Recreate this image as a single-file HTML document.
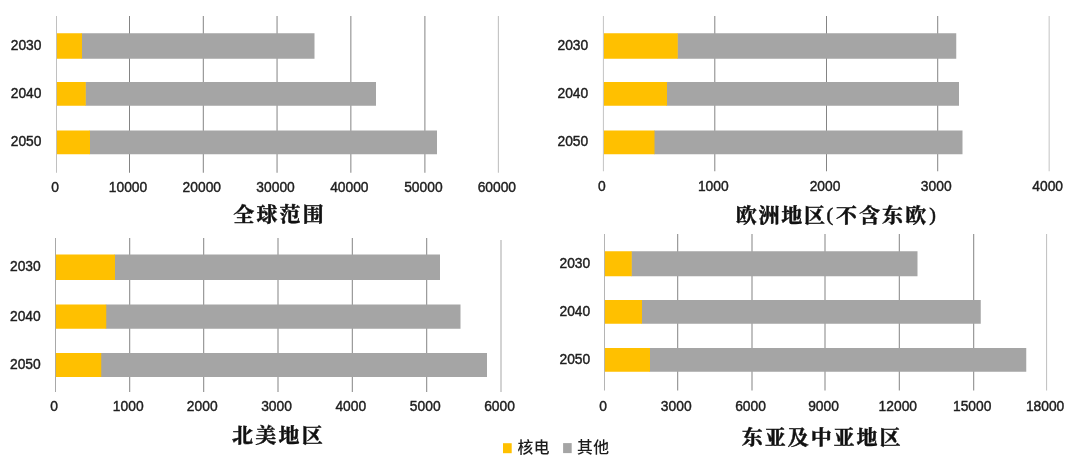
<!DOCTYPE html>
<html lang="zh-CN">
<head>
<meta charset="utf-8">
<title>核电与其他发电量预测</title>
<style>
html,body{margin:0;padding:0;background:#fff;}
body{width:1080px;height:460px;overflow:hidden;}
svg{display:block;}
.num{font-family:"Liberation Sans","Noto Sans CJK SC",sans-serif;font-size:14.4px;fill:#202020;stroke:#202020;stroke-width:0.42px;}
.ttl{font-family:"Liberation Serif","Noto Serif CJK SC",serif;font-weight:700;font-size:20px;fill:#111;stroke:#111;stroke-width:0.45px;}
.par{font-size:19px;font-weight:400;stroke-width:0.5px;}
.leg{font-family:"Liberation Sans","Noto Sans CJK SC",sans-serif;font-size:15.8px;font-weight:500;fill:#1c1c1c;letter-spacing:0.4px;}
</style>
</head>
<body>
<svg width="1080" height="460" viewBox="0 0 1080 460">
<rect x="0" y="0" width="1080" height="460" fill="#ffffff"/>

<g>
<rect x="56.00" y="16.00" width="1" height="156.75" fill="#c0c0c0"/>
<rect x="129.00" y="16.00" width="1" height="156.75" fill="#848484"/>
<rect x="202.80" y="16.00" width="1" height="156.75" fill="#848484"/>
<rect x="276.55" y="16.00" width="1" height="156.75" fill="#848484"/>
<rect x="350.35" y="16.00" width="1" height="156.75" fill="#848484"/>
<rect x="424.40" y="16.00" width="1" height="156.75" fill="#848484"/>
<rect x="497.85" y="16.00" width="1" height="156.75" fill="#bcbcbc"/>
<rect x="81.50" y="33.25" width="233.00" height="25.50" fill="#A5A5A5"/>
<rect x="56.90" y="33.25" width="25.10" height="25.50" fill="#FFC000"/>
<text class="num" transform="translate(41.45,50.00) scale(0.960,1)" text-anchor="end">2030</text>
<rect x="85.25" y="82.00" width="290.75" height="23.75" fill="#A5A5A5"/>
<rect x="56.90" y="82.00" width="28.85" height="23.75" fill="#FFC000"/>
<text class="num" transform="translate(41.45,97.88) scale(0.960,1)" text-anchor="end">2040</text>
<rect x="89.50" y="130.50" width="347.50" height="23.75" fill="#A5A5A5"/>
<rect x="56.90" y="130.50" width="33.10" height="23.75" fill="#FFC000"/>
<text class="num" transform="translate(41.45,146.38) scale(0.960,1)" text-anchor="end">2050</text>
<text class="num" transform="translate(55.00,192.30) scale(0.960,1)" text-anchor="middle">0</text>
<text class="num" transform="translate(128.00,192.30) scale(0.960,1)" text-anchor="middle">10000</text>
<text class="num" transform="translate(201.80,192.30) scale(0.960,1)" text-anchor="middle">20000</text>
<text class="num" transform="translate(275.55,192.30) scale(0.960,1)" text-anchor="middle">30000</text>
<text class="num" transform="translate(349.35,192.30) scale(0.960,1)" text-anchor="middle">40000</text>
<text class="num" transform="translate(423.40,192.30) scale(0.960,1)" text-anchor="middle">50000</text>
<text class="num" transform="translate(496.85,192.30) scale(0.960,1)" text-anchor="middle">60000</text>
<text class="ttl" transform="scale(1.050,1)" x="222.10 244.19 266.29 288.38" y="222.40">全球范围</text>
</g>
<g>
<rect x="602.90" y="16.00" width="1" height="155.25" fill="#c4c4c4"/>
<rect x="714.30" y="16.00" width="1" height="155.25" fill="#848484"/>
<rect x="826.00" y="16.00" width="1" height="155.25" fill="#848484"/>
<rect x="937.20" y="16.00" width="1" height="155.25" fill="#848484"/>
<rect x="1048.65" y="16.00" width="1" height="155.25" fill="#c4c4c4"/>
<rect x="677.25" y="33.25" width="279.00" height="25.50" fill="#A5A5A5"/>
<rect x="603.90" y="33.25" width="73.85" height="25.50" fill="#FFC000"/>
<text class="num" transform="translate(588.20,50.00) scale(0.960,1)" text-anchor="end">2030</text>
<rect x="666.50" y="82.00" width="292.50" height="23.75" fill="#A5A5A5"/>
<rect x="603.90" y="82.00" width="63.10" height="23.75" fill="#FFC000"/>
<text class="num" transform="translate(588.20,97.88) scale(0.960,1)" text-anchor="end">2040</text>
<rect x="654.00" y="130.50" width="308.50" height="23.75" fill="#A5A5A5"/>
<rect x="603.90" y="130.50" width="50.60" height="23.75" fill="#FFC000"/>
<text class="num" transform="translate(588.20,146.38) scale(0.960,1)" text-anchor="end">2050</text>
<text class="num" transform="translate(601.90,191.05) scale(0.960,1)" text-anchor="middle">0</text>
<text class="num" transform="translate(713.30,191.05) scale(0.960,1)" text-anchor="middle">1000</text>
<text class="num" transform="translate(825.00,191.05) scale(0.960,1)" text-anchor="middle">2000</text>
<text class="num" transform="translate(936.20,191.05) scale(0.960,1)" text-anchor="middle">3000</text>
<text class="num" transform="translate(1047.65,191.05) scale(0.960,1)" text-anchor="middle">4000</text>
<text class="ttl" transform="scale(1.050,1)" y="223.40"><tspan x="700.76 722.43 744.10 765.76" y="223.40">欧洲地区</tspan><tspan class="par" x="787.05" y="221.40">(</tspan><tspan x="796.10 818.10 840.10 862.10" y="223.40">不含东欧</tspan><tspan class="par" x="885.05" y="221.40">)</tspan></text>
</g>
<g>
<rect x="55.00" y="238.00" width="1" height="154.00" fill="#a8a8a8"/>
<rect x="129.20" y="238.00" width="1" height="154.00" fill="#848484"/>
<rect x="203.20" y="238.00" width="1" height="154.00" fill="#848484"/>
<rect x="277.50" y="238.00" width="1" height="154.00" fill="#848484"/>
<rect x="351.80" y="238.00" width="1" height="154.00" fill="#848484"/>
<rect x="426.20" y="238.00" width="1" height="154.00" fill="#848484"/>
<rect x="500.50" y="240.00" width="1" height="152.00" fill="#a8a8a8"/>
<rect x="114.50" y="254.50" width="325.50" height="25.50" fill="#A5A5A5"/>
<rect x="55.90" y="254.50" width="59.10" height="25.50" fill="#FFC000"/>
<text class="num" transform="translate(40.70,271.25) scale(0.960,1)" text-anchor="end">2030</text>
<rect x="105.75" y="304.50" width="354.75" height="24.25" fill="#A5A5A5"/>
<rect x="55.90" y="304.50" width="50.35" height="24.25" fill="#FFC000"/>
<text class="num" transform="translate(40.70,320.62) scale(0.960,1)" text-anchor="end">2040</text>
<rect x="100.75" y="353.00" width="386.25" height="24.00" fill="#A5A5A5"/>
<rect x="55.90" y="353.00" width="45.35" height="24.00" fill="#FFC000"/>
<text class="num" transform="translate(40.70,369.00) scale(0.960,1)" text-anchor="end">2050</text>
<text class="num" transform="translate(54.00,411.05) scale(0.960,1)" text-anchor="middle">0</text>
<text class="num" transform="translate(128.20,411.05) scale(0.960,1)" text-anchor="middle">1000</text>
<text class="num" transform="translate(202.20,411.05) scale(0.960,1)" text-anchor="middle">2000</text>
<text class="num" transform="translate(276.50,411.05) scale(0.960,1)" text-anchor="middle">3000</text>
<text class="num" transform="translate(350.80,411.05) scale(0.960,1)" text-anchor="middle">4000</text>
<text class="num" transform="translate(425.20,411.05) scale(0.960,1)" text-anchor="middle">5000</text>
<text class="num" transform="translate(499.50,411.05) scale(0.960,1)" text-anchor="middle">6000</text>
<text class="ttl" transform="scale(1.050,1)" x="221.05 243.14 265.24 287.33" y="443.40">北美地区</text>
</g>
<g>
<rect x="604.00" y="234.00" width="1" height="156.50" fill="#b4b4b4"/>
<rect x="677.20" y="234.00" width="1" height="156.50" fill="#848484"/>
<rect x="751.50" y="234.00" width="1" height="156.50" fill="#848484"/>
<rect x="824.50" y="234.00" width="1" height="156.50" fill="#848484"/>
<rect x="898.80" y="234.00" width="1" height="156.50" fill="#848484"/>
<rect x="973.20" y="234.00" width="1" height="156.50" fill="#848484"/>
<rect x="1046.10" y="234.00" width="1" height="156.50" fill="#bebebe"/>
<rect x="631.25" y="251.25" width="286.25" height="25.00" fill="#A5A5A5"/>
<rect x="604.90" y="251.25" width="26.85" height="25.00" fill="#FFC000"/>
<text class="num" transform="translate(590.20,267.75) scale(0.960,1)" text-anchor="end">2030</text>
<rect x="641.50" y="300.00" width="339.25" height="23.75" fill="#A5A5A5"/>
<rect x="604.90" y="300.00" width="37.10" height="23.75" fill="#FFC000"/>
<text class="num" transform="translate(590.20,315.88) scale(0.960,1)" text-anchor="end">2040</text>
<rect x="649.50" y="348.00" width="376.75" height="23.75" fill="#A5A5A5"/>
<rect x="604.90" y="348.00" width="45.10" height="23.75" fill="#FFC000"/>
<text class="num" transform="translate(590.20,363.88) scale(0.960,1)" text-anchor="end">2050</text>
<text class="num" transform="translate(603.00,411.05) scale(0.960,1)" text-anchor="middle">0</text>
<text class="num" transform="translate(676.20,411.05) scale(0.960,1)" text-anchor="middle">3000</text>
<text class="num" transform="translate(750.50,411.05) scale(0.960,1)" text-anchor="middle">6000</text>
<text class="num" transform="translate(823.50,411.05) scale(0.960,1)" text-anchor="middle">9000</text>
<text class="num" transform="translate(897.80,411.05) scale(0.960,1)" text-anchor="middle">12000</text>
<text class="num" transform="translate(972.20,411.05) scale(0.960,1)" text-anchor="middle">15000</text>
<text class="num" transform="translate(1045.10,411.05) scale(0.960,1)" text-anchor="middle">18000</text>
<text class="ttl" transform="scale(1.050,1)" x="706.48 728.33 750.19 772.05 793.90 815.76 837.62" y="444.80">东亚及中亚地区</text>
</g>
<rect x="503" y="443.2" width="8.7" height="10" fill="#FFC000"/>
<text class="leg" x="517.5" y="452.5">核电</text>
<rect x="563.1" y="443.1" width="8.6" height="10" fill="#A5A5A5"/>
<text class="leg" x="577" y="452.5">其他</text>
</svg>
</body>
</html>
